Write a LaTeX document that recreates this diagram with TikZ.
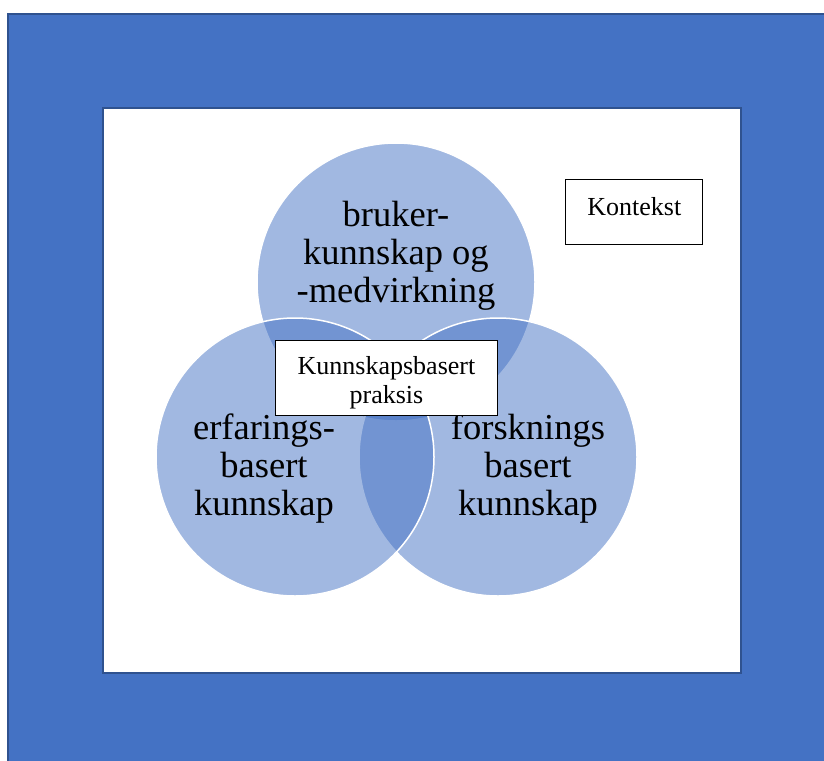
\documentclass[tikz,border=0pt]{standalone}
\usepackage{fontspec}
\setmainfont{Liberation Serif}
\usepackage{tikz}
\usetikzlibrary{positioning}
\definecolor{frameblue}{HTML}{4472C4}
\definecolor{edgeblue}{HTML}{2F528F}

\begin{document}
\begin{tikzpicture}[x=1pt, y=-1pt]
    \tikzstyle{ring}=[circle, minimum size=278pt, fill=frameblue, fill opacity=0.5, draw=white, line width=1.5pt]
    \tikzstyle{bigtext}=[align=center, font=\fontsize{36.5}{38}\selectfont]
    \tikzstyle{smalltext}=[align=center, font=\fontsize{26}{29}\selectfont]
    \tikzstyle{textbox}=[draw, fill=white, line width=0.9pt]
    \useasboundingbox (0,0) rectangle (824,760);
    \fill [white] (0,0) rectangle (824,760);
    \draw [fill=frameblue, draw=edgeblue, line width=2pt] (8,14) rectangle (840,780);
    \draw [fill=white, draw=edgeblue, line width=2pt] (103,108) rectangle (741,673);
    \node [ring] (bruker) at (396,282) {};
    \node [ring] (forskning) at (498,457) {};
    \node [ring] (erfaring) at (295,457) {};
    \node [bigtext] (brukertxt) at (396,256) {bruker-\\kunnskap og\\-medvirkning};
    \node [bigtext] (erfaringtxt) at (264,469) {erfarings-\\basert\\kunnskap};
    \node [bigtext] (forskningtxt) at (528,469) {forsknings\\basert\\kunnskap};
    \node [textbox, minimum width=222pt, minimum height=75pt] (praksis) at (386.5,378) {};
    \node [smalltext] (praksistxt) at (386.5,383) {Kunnskapsbasert\\praksis};
    \node [textbox, minimum width=137pt, minimum height=65pt] (kontekst) at (634.3,211.7) {};
    \node [smalltext] (kontekstxt) at (634.3,206.5) {Kontekst};
  \end{tikzpicture}
\end{document}
